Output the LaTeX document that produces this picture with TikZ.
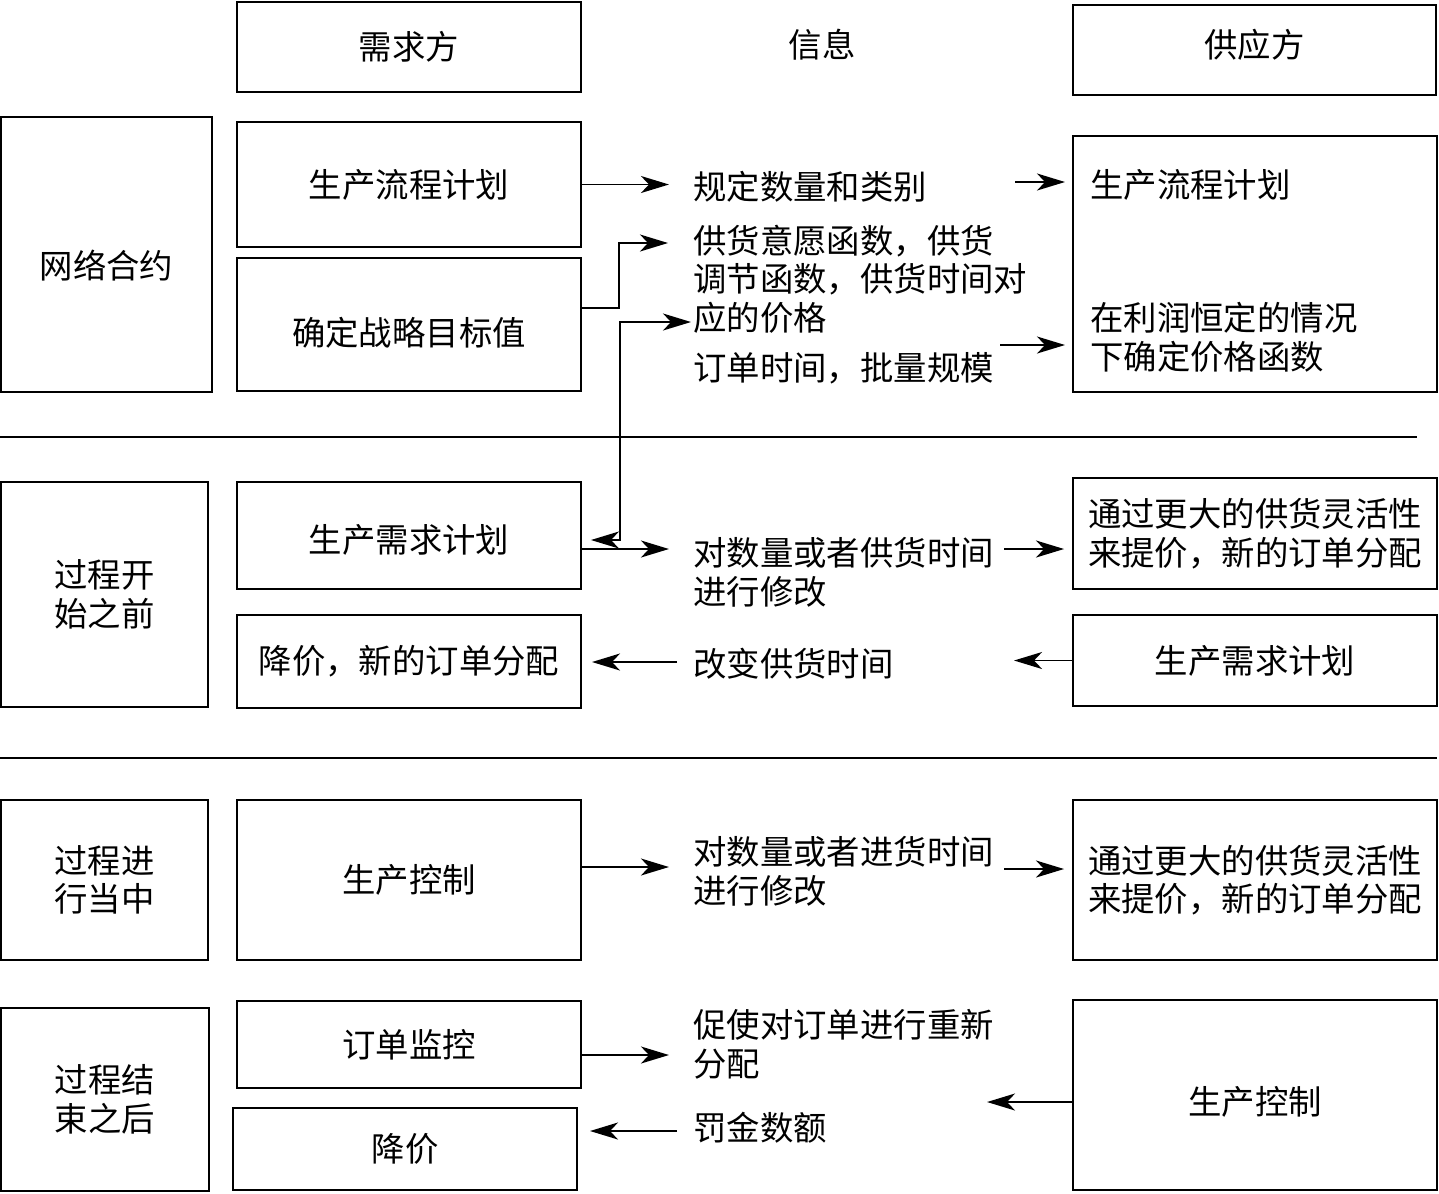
\documentclass[tikz,border=0pt]{standalone}
\usepackage{fontspec}
\setmainfont{Noto Sans CJK SC}
\usepackage{tikz}
\usetikzlibrary{arrows.meta,positioning,calc}

\tikzset{
  box/.style={draw,line width=1.1pt,inner sep=0pt,align=center},
  info/.style={anchor=west,inner sep=0pt,align=left},
  arr/.style={line width=1.1pt,-{Stealth[length=0.56cm,width=0.34cm,inset=0.16cm]}},
  dblarr/.style={line width=1.1pt,{Stealth[length=0.56cm,width=0.34cm,inset=0.16cm]}-{Stealth[length=0.56cm,width=0.34cm,inset=0.16cm]}}
}
% shift a label inside its box without changing the box
\newcommand{\lowerby}[2]{\raisebox{#1}[0pt][0pt]{#2}}

\begin{document}
\begin{tikzpicture}[font=\fontsize{19}{22}\selectfont]
  \useasboundingbox (0,0) rectangle (28.78,-23.86);

  % Header row
  \node[box,minimum width=6.88cm,minimum height=1.8cm] (hdemand) at (8.18,-0.94) {需求方};
  \node (hinfo) at (16.44,-0.9) {信息};
  \node[box,minimum width=7.26cm,minimum height=1.8cm] (hsupply) at (25.09,-1.0) {\lowerby{-0.15cm}{供应方}};

  % Phases
  \node[box,minimum width=4.22cm,minimum height=5.5cm] (pnet) at (2.13,-5.09) {\lowerby{-0.47cm}{网络合约}};
  \node[box,minimum width=4.14cm,minimum height=4.5cm] (pbefore) at (2.09,-11.89) {过程开\\始之前};
  \node[box,minimum width=4.14cm,minimum height=3.2cm] (pduring) at (2.09,-17.6) {过程进\\行当中};
  \node[box,minimum width=4.16cm,minimum height=3.66cm] (pafter) at (2.1,-21.99) {过程结\\束之后};

  % Demand side
  \node[box,minimum width=6.88cm,minimum height=2.5cm] (dplan) at (8.18,-3.69) {生产流程计划};
  \node[box,minimum width=6.88cm,minimum height=2.66cm] (dgoal) at (8.18,-6.49) {\lowerby{-0.42cm}{确定战略目标值}};
  \node[box,minimum width=6.88cm,minimum height=2.14cm] (ddemand) at (8.18,-10.71) {\lowerby{-0.34cm}{生产需求计划}};
  \node[box,minimum width=6.88cm,minimum height=1.86cm] (dprice) at (8.18,-13.23) {降价，新的订单分配};
  \node[box,minimum width=6.88cm,minimum height=3.2cm] (dctrl) at (8.18,-17.6) {生产控制};
  \node[box,minimum width=6.88cm,minimum height=1.74cm] (dmon) at (8.18,-20.89) {订单监控};
  \node[box,minimum width=6.88cm,minimum height=1.64cm] (dcut) at (8.1,-22.98) {降价};

  % Information
  \node[info] (irule) at (13.86,-3.74) {规定数量和类别};
  \node[info] (ifunc) at (13.86,-5.58) {供货意愿函数，供货\\调节函数，供货时间对\\应的价格};
  \node[info] (iorder) at (13.86,-7.36) {订单时间，批量规模};
  \node[info] (ichgA) at (13.86,-11.44) {对数量或者供货时间\\进行修改};
  \node[info] (ishift) at (13.86,-13.28) {改变供货时间};
  \node[info] (ichgB) at (13.86,-17.42) {对数量或者进货时间\\进行修改};
  \node[info] (irealloc) at (13.86,-20.88) {促使对订单进行重新\\分配};
  \node[info] (ifine) at (13.86,-22.56) {罚金数额};

  % Supply side
  \node[box,minimum width=7.28cm,minimum height=5.12cm] (sbig) at (25.1,-5.28) {};
  \node[info] (splan) at (21.8,-3.7) {生产流程计划};
  \node[info] (sprice) at (21.8,-6.74) {在利润恒定的情况\\下确定价格函数};
  \node[box,minimum width=7.28cm,minimum height=2.22cm] (sflexA) at (25.1,-10.67) {通过更大的供货灵活性\\来提价，新的订单分配};
  \node[box,minimum width=7.28cm,minimum height=1.82cm] (sdemand) at (25.1,-13.21) {生产需求计划};
  \node[box,minimum width=7.28cm,minimum height=3.2cm] (sflexB) at (25.1,-17.6) {通过更大的供货灵活性\\来提价，新的订单分配};
  \node[box,minimum width=7.28cm,minimum height=3.8cm] (sctrl) at (25.1,-21.9) {\lowerby{-0.39cm}{生产控制}};

  % Separators
  \draw[line width=1.1pt] (0,-8.74) -- (28.34,-8.74);
  \draw[line width=1.1pt] (0,-15.16) -- (28.74,-15.16);

  % Network contract
  \draw[arr] (dplan.east) -- ++(1.74,0);
  \draw[arr] (splan.west) ++(-1.5,0.06) -- ++(1,0);
  \draw[arr] ([yshift=0.33cm]dgoal.east) -- ++(0.74,0) |- ([xshift=-0.5cm,yshift=0.72cm]ifunc.west);
  \draw[dblarr] ([xshift=-0.04cm,yshift=-0.86cm]ifunc.west) -- ++(-1.42,0) |- ([xshift=0.18cm,yshift=-0.09cm]ddemand.east);
  \draw[arr] (sprice.west) ++(-1.8,-0.16) -- ++(1.3,0);

  % Before the process
  \draw[arr] ([yshift=-0.27cm]ddemand.east) -- ++(1.74,0);
  \draw[arr] ([yshift=-0.31cm]sflexA.west) ++(-1.36,0) -- ++(1.2,0);
  \draw[arr] ([xshift=-0.32cm,yshift=0.04cm]ishift.west) -- ++(-1.7,0);
  \draw[arr] (sdemand.west) -- ++(-1.16,0);

  % During the process
  \draw[arr] ([yshift=0.26cm]dctrl.east) -- ++(1.74,0);
  \draw[arr] ([yshift=0.22cm]sflexB.west) ++(-1.36,0) -- ++(1.2,0);

  % After the process
  \draw[arr] ([yshift=-0.21cm]dmon.east) -- ++(1.74,0);
  \draw[arr] ([xshift=-0.32cm,yshift=-0.06cm]ifine.west) -- ++(-1.74,0);
  \draw[arr] ([yshift=-0.14cm]sctrl.west) -- ++(-1.7,0);
\end{tikzpicture}
\end{document}
